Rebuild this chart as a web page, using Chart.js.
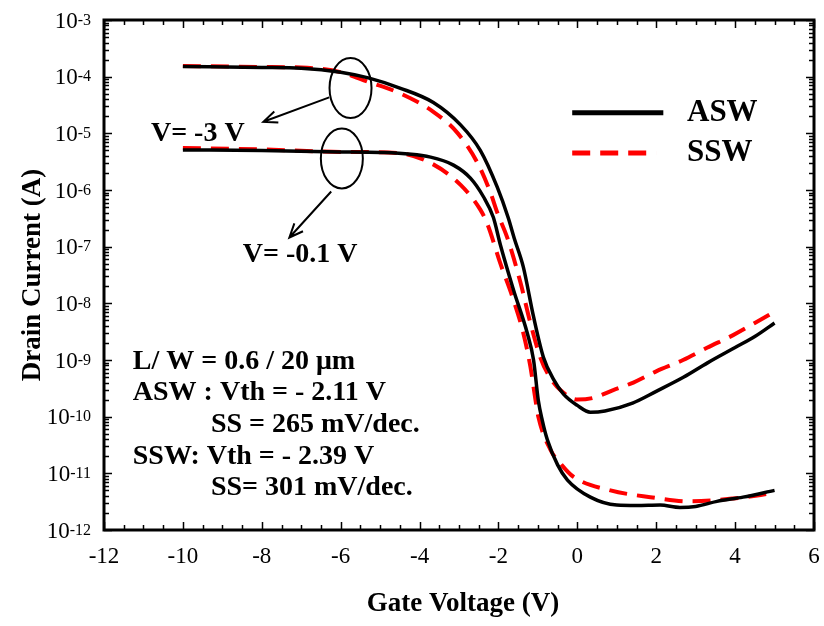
<!DOCTYPE html>
<html>
<head>
<meta charset="utf-8">
<script src="https://cdn.jsdelivr.net/npm/chart.js@4.4.1/dist/chart.umd.min.js"></script>
<style>
html, body { margin: 0; padding: 0; background: #fff; }
</style>
</head>
<body>
<canvas id="ivChart" width="824" height="626"></canvas>
<script>
// Transfer curves (gate voltage in V, drain current in A)
const aswHiVg = [-10, -8, -7, -6, -5.3, -4.5, -3.65, -2.96, -2.46, -2.03, -1.75, -1.6, -1.37, -1.11, -0.86, -0.6, -0.35, 0, 0.33, 0.7, 1.4, 2.0, 2.7, 3.3, 4.0, 4.5, 5.0];
const aswHiId = [1.51e-4, 1.45e-4, 1.41e-4, 1.2e-4, 9.5e-5, 6.3e-5, 3.5e-5, 1.41e-5, 5.0e-6, 1.12e-6, 3.2e-7, 1.41e-7, 4.4e-8, 5.8e-9, 1.12e-9, 4.5e-10, 2.5e-10, 1.58e-10, 1.2e-10, 1.26e-10, 1.74e-10, 2.8e-10, 5.0e-10, 8.9e-10, 1.66e-9, 2.6e-9, 4.5e-9];

const sswHiVg = [-10, -8, -7, -6, -5.3, -4.5, -3.65, -3.04, -2.53, -2.2, -2.03, -1.77, -1.44, -1.19, -0.94, -0.7, -0.43, 0, 0.4, 0.91, 1.42, 2.0, 2.68, 3.3, 3.95, 4.5, 5.0];
const sswHiId = [1.55e-4, 1.48e-4, 1.45e-4, 1.2e-4, 8.1e-5, 5.1e-5, 2.4e-5, 1.02e-5, 3.0e-6, 8.9e-7, 4.0e-7, 1.4e-7, 2.3e-8, 4.5e-9, 1.12e-9, 5.0e-10, 2.95e-10, 2.0e-10, 2.14e-10, 2.95e-10, 4.0e-10, 6.3e-10, 1.0e-9, 1.66e-9, 2.75e-9, 4.5e-9, 7.1e-9];

const aswLoVg = [-10, -8, -6, -5, -3.72, -3.14, -2.71, -2.38, -2.13, -1.95, -1.62, -1.27, -1.11, -0.99, -0.89, -0.76, -0.5, -0.25, 0.33, 1.0, 1.5, 2.1, 2.6, 3.0, 3.54, 4.2, 5.0];
const aswLoId = [5.1e-6, 5.0e-6, 4.7e-6, 4.6e-6, 3.8e-6, 2.75e-6, 1.62e-6, 7.6e-7, 3.3e-7, 1.07e-7, 1.74e-8, 3.0e-9, 1.0e-9, 1.95e-10, 8.7e-11, 3.9e-11, 1.41e-11, 7.6e-12, 3.8e-12, 2.75e-12, 2.7e-12, 2.75e-12, 2.5e-12, 2.6e-12, 3.2e-12, 3.8e-12, 5.0e-12];

const sswLoVg = [-10, -8, -6, -4.56, -3.72, -2.96, -2.46, -2.28, -1.95, -1.62, -1.37, -1.19, -1.06, -0.99, -0.68, -0.4, -0.1, 0.84, 1.85, 2.86, 3.95, 5.0];
const sswLoId = [5.5e-6, 5.2e-6, 4.7e-6, 4.5e-6, 3.0e-6, 1.23e-6, 4.5e-7, 2.5e-7, 5.0e-8, 1.15e-8, 3.0e-9, 7.6e-10, 1.95e-10, 1.0e-10, 2.6e-11, 1.41e-11, 8.7e-12, 5.0e-12, 3.8e-12, 3.2e-12, 3.6e-12, 4.5e-12];

// axis ticks
const xTickLabels = [-12, -10, -8, -6, -4, -2, 0, 2, 4, 6];
const yDecades = [-12, -11, -10, -9, -8, -7, -6, -5, -4, -3];

// text notes, anchored in data units
const infoLines = [
  { text: 'L/ W = 0.6 / 20 \u03bcm', x: -11.27, y: 9.3e-10 },
  { text: 'ASW : Vth = - 2.11 V', x: -11.27, y: 2.6e-10 },
  { text: 'SS = 265 mV/dec.', x: -9.29, y: 7.1e-11 },
  { text: 'SSW: Vth = - 2.39 V', x: -11.27, y: 2.0e-11 },
  { text: 'SS= 301 mV/dec.', x: -9.29, y: 5.5e-12 }
];
const biasNotes = [
  { text: 'V= -3 V', x: -10.81, y: 1.0e-5 },
  { text: 'V= -0.1 V', x: -8.48, y: 7.1e-8 }
];
// ellipse centre (data units) and arrow from -> to (data units)
const ringNotes = [
  { cx: -5.75, cy: 6.3e-5, from: [-6.29, 4.3e-5], to: [-7.96, 1.6e-5] },
  { cx: -5.97, cy: 3.6e-6, from: [-6.24, 9.4e-7], to: [-7.3, 1.45e-7] }
];
const legendItems = [
  { text: 'ASW', y: 2.3e-5, color: '#000', dash: [] },
  { text: 'SSW', y: 4.5e-6, color: '#ff0000', dash: [18, 10] }
];

function toPoints(xs, ys) {
  return xs.map((v, i) => ({ x: v, y: ys[i] }));
}

const SERIF = '"Liberation Serif", "Times New Roman", serif';

const framePlugin = {
  id: 'framePlugin',
  afterDraw(chart) {
    const ctx = chart.ctx;
    const a = chart.chartArea;
    const xs = chart.scales.x;
    const ys = chart.scales.y;
    ctx.save();
    ctx.strokeStyle = '#000';
    ctx.fillStyle = '#000';

    // inward ticks on all four sides
    ctx.lineWidth = 1.5;
    ctx.beginPath();
    for (let v = -12; v <= 6.001; v += 0.5) {
      const px = Math.round(xs.getPixelForValue(v)) + 0.5;
      const len = Number.isInteger(v) && v % 2 === 0 ? 8 : 5;
      ctx.moveTo(px, a.bottom); ctx.lineTo(px, a.bottom - len);
      ctx.moveTo(px, a.top); ctx.lineTo(px, a.top + len);
    }
    for (let d = -12; d <= -3; d++) {
      for (let m = 1; m <= 9; m++) {
        if (d === -3 && m > 1) break;
        const py = Math.round(ys.getPixelForValue(m * Math.pow(10, d))) + 0.5;
        const len = m === 1 ? 8 : 5;
        ctx.moveTo(a.left, py); ctx.lineTo(a.left + len, py);
        ctx.moveTo(a.right, py); ctx.lineTo(a.right - len, py);
      }
    }
    ctx.stroke();

    // frame
    ctx.lineWidth = 3;
    ctx.strokeRect(a.left, a.top, a.right - a.left, a.bottom - a.top);

    // x tick labels
    ctx.font = '23px ' + SERIF;
    ctx.textAlign = 'center';
    ctx.textBaseline = 'alphabetic';
    xTickLabels.forEach(v => {
      ctx.fillText(String(v), xs.getPixelForValue(v), a.bottom + 33);
    });

    // y tick labels 10^n
    yDecades.forEach(d => {
      const py = ys.getPixelForValue(Math.pow(10, d));
      const right = a.left - 13;
      ctx.font = '16px ' + SERIF;
      ctx.textAlign = 'right';
      const sup = String(d);
      const supW = ctx.measureText(sup).width;
      ctx.fillText(sup, right, py + 4.5);
      ctx.font = '23px ' + SERIF;
      ctx.fillText('10', right - supW, py + 7.5);
    });

    // axis titles
    ctx.font = 'bold 27px ' + SERIF;
    ctx.textAlign = 'center';
    ctx.textBaseline = 'middle';
    ctx.fillText('Gate Voltage (V)', (a.left + a.right) / 2 + 4, 604);
    ctx.save();
    ctx.translate(33, (a.top + a.bottom) / 2);
    ctx.rotate(-Math.PI / 2);
    ctx.fillText('Drain Current (A)', 0, 0);
    ctx.restore();

    // notes
    ctx.font = 'bold 28px ' + SERIF;
    ctx.textAlign = 'left';
    infoLines.concat(biasNotes).forEach(n => {
      ctx.fillText(n.text, xs.getPixelForValue(n.x), ys.getPixelForValue(n.y));
    });

    // ellipses and arrows
    ctx.lineWidth = 2;
    ringNotes.forEach(r => {
      ctx.beginPath();
      ctx.ellipse(xs.getPixelForValue(r.cx), ys.getPixelForValue(r.cy), 21, 30, 0, 0, Math.PI * 2);
      ctx.stroke();
      const x0 = xs.getPixelForValue(r.from[0]), y0 = ys.getPixelForValue(r.from[1]);
      const x1 = xs.getPixelForValue(r.to[0]), y1 = ys.getPixelForValue(r.to[1]);
      const ang = Math.atan2(y1 - y0, x1 - x0);
      ctx.beginPath();
      ctx.moveTo(x0, y0); ctx.lineTo(x1, y1);
      ctx.moveTo(x1 - 15 * Math.cos(ang - 0.4), y1 - 15 * Math.sin(ang - 0.4));
      ctx.lineTo(x1, y1);
      ctx.lineTo(x1 - 15 * Math.cos(ang + 0.4), y1 - 15 * Math.sin(ang + 0.4));
      ctx.stroke();
    });

    // legend
    legendItems.forEach(item => {
      const py = ys.getPixelForValue(item.y);
      ctx.strokeStyle = item.color;
      ctx.lineWidth = 5;
      ctx.setLineDash(item.dash);
      ctx.beginPath();
      ctx.moveTo(xs.getPixelForValue(-0.13), py);
      ctx.lineTo(xs.getPixelForValue(item.dash.length ? 2.0 : 2.18), py);
      ctx.stroke();
      ctx.setLineDash([]);
      ctx.font = 'bold 31px ' + SERIF;
      ctx.fillStyle = '#000';
      ctx.fillText(item.text, xs.getPixelForValue(2.78), py);
    });
    ctx.restore();
  }
};

const lineBase = { pointRadius: 0, fill: false, cubicInterpolationMode: 'monotone' };

new Chart(document.getElementById('ivChart'), {
  type: 'line',
  data: {
    datasets: [
      Object.assign({ label: 'ASW -3 V', data: toPoints(aswHiVg, aswHiId), borderColor: '#000', borderWidth: 3.5 }, lineBase),
      Object.assign({ label: 'ASW -0.1 V', data: toPoints(aswLoVg, aswLoId), borderColor: '#000', borderWidth: 3.5 }, lineBase),
      Object.assign({ label: 'SSW -3 V', data: toPoints(sswHiVg, sswHiId), borderColor: '#ff0000', borderWidth: 4, borderDash: [18, 10] }, lineBase),
      Object.assign({ label: 'SSW -0.1 V', data: toPoints(sswLoVg, sswLoId), borderColor: '#ff0000', borderWidth: 4, borderDash: [18, 10] }, lineBase)
    ]
  },
  options: {
    responsive: false,
    animation: false,
    devicePixelRatio: 1,
    layout: { padding: { left: 104, top: 20, right: 10, bottom: 96 } },
    plugins: { legend: { display: false }, tooltip: { enabled: false } },
    scales: {
      x: { type: 'linear', min: -12, max: 6, display: false },
      y: { type: 'logarithmic', min: 1e-12, max: 1e-3, display: false }
    }
  },
  plugins: [framePlugin]
});
</script>
</body>
</html>
